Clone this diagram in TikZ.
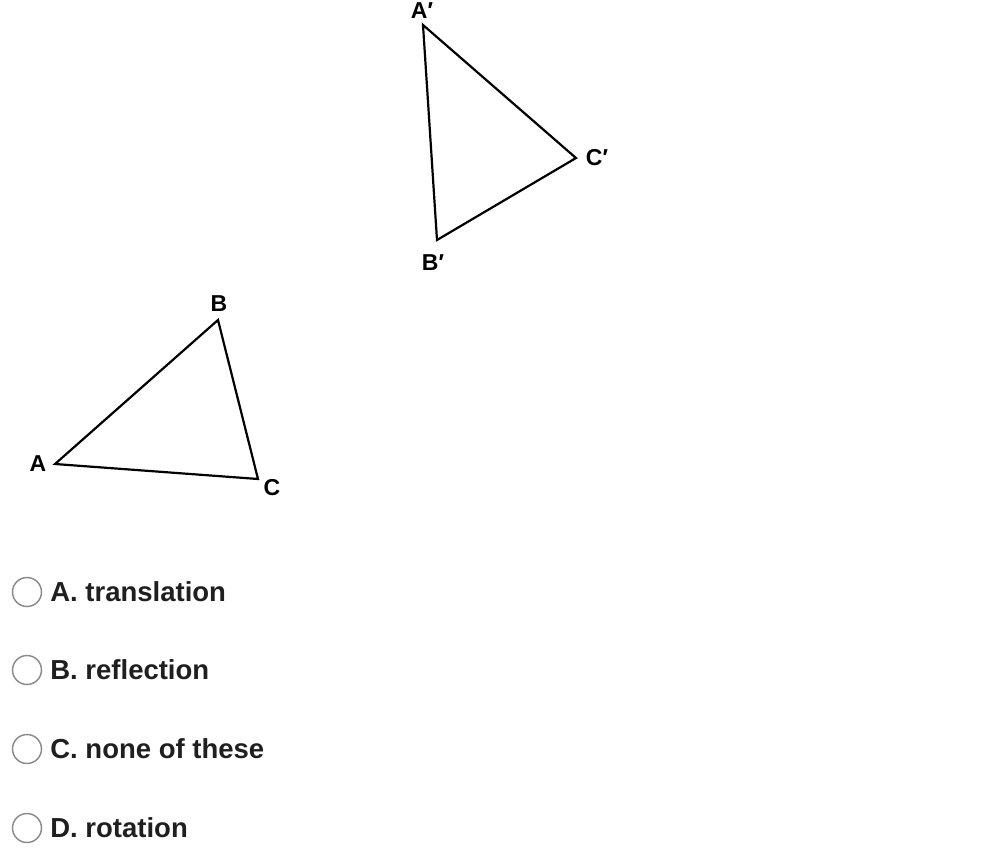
\documentclass[tikz,border=0pt]{standalone}
\usepackage{fontspec}
\setmainfont{Liberation Sans}
\usetikzlibrary{positioning}
\tikzset{
every picture/.style={
line width=2.2pt
}}
\tikzset{
  vlabel/.style={font=\bfseries\fontsize{23}{25}\selectfont, inner sep=0pt},
  optcircle/.style={circle, draw=black!45, line width=1.5pt, minimum size=29pt, inner sep=0pt},
  opttext/.style={font=\bfseries\fontsize{27.5}{30}\selectfont, text=black!88, inner sep=0pt, anchor=west}
}

\begin{document}
\begin{tikzpicture}[x=1pt, y=-1pt]
  \useasboundingbox (0,0) rectangle (1002,865);

  % original triangle
  \coordinate (a) at (55,464);
  \coordinate (b) at (218,320);
  \coordinate (c) at (258,479);
  \draw [line join=miter] (a) -- (b) -- (c) -- cycle;
  \node (la) [vlabel] at (38,464) {A};
  \node (lb) [vlabel] at (219,304) {B};
  \node (lc) [vlabel] at (272,488) {C};

  % image triangle
  \coordinate (a1) at (423,25);
  \coordinate (b1) at (437,240);
  \coordinate (c1) at (576,158);
  \draw [line join=miter] (a1) -- (b1) -- (c1) -- cycle;
  \node (la1) [vlabel] at (422,11) {A\char"2032};
  \node (lb1) [vlabel] at (433,263) {B\char"2032};
  \node (lc1) [vlabel] at (597,158) {C\char"2032};

  % answer choices
  \node (o1) [optcircle] at (27,592) {};
  \node (t1) [opttext, right=7pt of o1] {A. translation};
  \node (o2) [optcircle] at (27,670) {};
  \node (t2) [opttext, right=7pt of o2] {B. reflection};
  \node (o3) [optcircle] at (27,749) {};
  \node (t3) [opttext, right=7pt of o3] {C. none of these};
  \node (o4) [optcircle] at (27,828) {};
  \node (t4) [opttext, right=7pt of o4] {D. rotation};

\end{tikzpicture}
\end{document}
